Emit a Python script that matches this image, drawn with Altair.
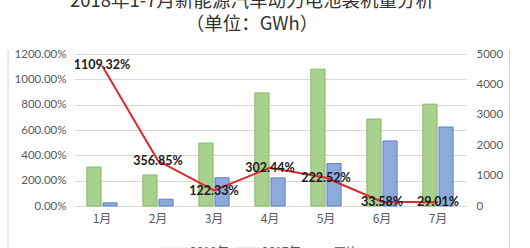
import altair as alt
import pandas as pd

months = ["1月", "2月", "3月", "4月", "5月", "6月", "7月"]
v2018 = [1280, 1020, 2070, 3720, 4500, 2860, 3350]
v2017 = [104, 224, 930, 925, 1397, 2141, 2597]
yoy = [1109.32, 356.85, 122.33, 302.44, 222.52, 33.58, 29.01]
years = ["2018年", "2017年"]
title_lines = ["2018年1-7月新能源汽车动力电池装机量分析", "（单位：GWh）"]

bars_df = pd.DataFrame(
    [{"month": m, "year": years[0], "value": a} for m, a in zip(months, v2018)]
    + [{"month": m, "year": years[1], "value": b} for m, b in zip(months, v2017)]
)
line_df = pd.DataFrame({"month": months, "yoy": [v / 100 for v in yoy], "series": "同比"})

W, H = 392, 152
FONT = "Lato"
CJK = "Noto Sans CJK SC"
GRAY = "#595959"

xenc = alt.X("month:N", sort=months, title=None,
             scale=alt.Scale(paddingInner=0.46, paddingOuter=0.23),
             axis=alt.Axis(labelAngle=0, ticks=False, domain=False, labelPadding=7,
                           labelFont=CJK, labelFontSize=12, labelColor=GRAY))

bars = alt.Chart(bars_df).mark_bar(strokeWidth=1).encode(
    x=xenc,
    xOffset=alt.XOffset("year:N", sort=years, scale=alt.Scale(paddingInner=0.12)),
    y=alt.Y("value:Q", title=None,
            scale=alt.Scale(domain=[0, 5000], nice=False),
            axis=alt.Axis(orient="right", values=[0, 1000, 2000, 3000, 4000, 5000], format="d",
                          grid=False, ticks=False, domain=False, labelPadding=10,
                          labelFont=FONT, labelFontSize=11.5, labelColor=GRAY)),
    fill=alt.Fill("year:N", sort=years,
                  scale=alt.Scale(domain=years, range=["#a9d08e", "#8eaadb"]),
                  legend=alt.Legend(title=None, orient="none", legendX=88, legendY=185,
                                    direction="horizontal",
                                    symbolType="M-1,-0.32H1V0.32H-1Z", symbolSize=625,
                                    symbolStrokeWidth=0, labelOffset=3, columnPadding=5,
                                    labelFont=CJK, labelFontSize=12, labelColor=GRAY,
                                    padding=0)),
    stroke=alt.condition(f"datum.year == '{years[0]}'", alt.value("#84b962"), alt.value("#5f82c9")),
)

yline = alt.Y("yoy:Q", title=None,
              scale=alt.Scale(domain=[0, 12], nice=False),
              axis=alt.Axis(orient="left", values=[0, 2, 4, 6, 8, 10, 12], format=".2%",
                            grid=True, gridColor="#d9d9d9", ticks=False, domain=False,
                            labelPadding=8, labelFont=FONT, labelFontSize=11.5, labelColor=GRAY))

line = alt.Chart(line_df).mark_line(strokeWidth=2).encode(
    x=xenc,
    y=yline,
    stroke=alt.Stroke("series:N", scale=alt.Scale(domain=["同比"], range=["#e0262b"]),
                      legend=alt.Legend(title=None, orient="none", legendX=226, legendY=185,
                                        symbolType="stroke", symbolSize=625, symbolStrokeWidth=2,
                                        labelOffset=7, labelFont=CJK, labelFontSize=12,
                                        labelColor=GRAY, padding=0)),
)

labels = alt.Chart(line_df).mark_text(fontWeight="bold", fontSize=12.5, font=FONT,
                                      color="#1a1a1a", align="center", baseline="middle").encode(
    x=xenc,
    y=alt.Y("yoy:Q", scale=alt.Scale(domain=[0, 12], nice=False), axis=None),
    text=alt.Text("yoy:Q", format=".2%"),
)

frame_df = pd.DataFrame({"side": ["left", "right"]})
frame_left = alt.Chart(frame_df.iloc[:1]).mark_rule(color="#d4d4d4", strokeWidth=1).encode(
    x=alt.value(-66), y=alt.value(-4), y2=alt.value(194))
frame_right = alt.Chart(frame_df.iloc[1:]).mark_rule(color="#d4d4d4", strokeWidth=1).encode(
    x=alt.value(435.5), y=alt.value(-4), y2=alt.value(194))

chart = alt.layer(bars, line, labels, frame_left, frame_right).resolve_scale(
    y="independent", stroke="independent"
).properties(
    width=W, height=H,
    padding={"left": 74, "top": 54, "right": 64, "bottom": 42},
    autosize=alt.AutoSizeParams(type="none"),
    background="white",
    title=alt.TitleParams(text=title_lines, anchor="middle", offset=15, dx=-18,
                          font=CJK, fontSize=18.5, fontWeight="normal", color="#333333",
                          lineHeight=23),
).configure_view(stroke=None)

chart.save("out.html", embed_options={"renderer": "svg", "actions": False})
